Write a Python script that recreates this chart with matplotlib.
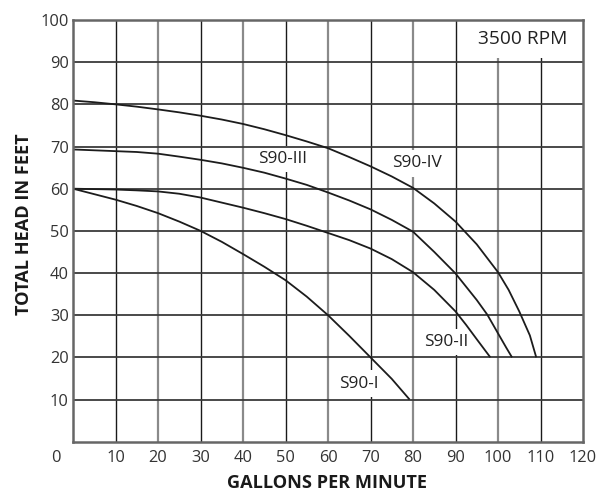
import matplotlib
matplotlib.use("Agg")
import matplotlib.pyplot as plt
import matplotlib.transforms as mtransforms

# ---------------- data ----------------
s90_iv_gpm = [0, 5, 10, 15, 20, 25, 30, 35, 40, 45, 50, 55, 60, 65, 70, 75, 80, 85, 90, 95, 100,
              102.5, 105, 107.5, 109]
s90_iv_head = [80.9, 80.5, 80.0, 79.45, 78.8, 78.1, 77.3, 76.4, 75.35, 74.1, 72.7, 71.2, 69.6, 67.5, 65.3, 62.9,
               60.2, 56.5, 52.2, 46.8, 40.2, 36.0, 30.9, 25.2, 20.0]

s90_iii_gpm = [0, 5, 10, 15, 20, 25, 30, 35, 40, 45, 50, 55, 60, 65, 70, 75, 80, 85, 90, 95, 97.5, 100,
               102, 103.3]
s90_iii_head = [69.3, 69.1, 68.9, 68.7, 68.3, 67.6, 66.85, 66.0, 64.96, 63.8, 62.4, 60.9, 59.1, 57.2, 55.1, 52.6,
                49.8, 45.0, 39.9, 33.6, 30.1, 25.7, 22.2, 20.0]

s90_ii_gpm = [0, 5, 10, 15, 20, 25, 30, 35, 40, 45, 50, 55, 60, 65, 70, 75, 80, 85, 90, 92.5, 95, 98.2]
s90_ii_head = [60.0, 59.9, 59.8, 59.6, 59.35, 58.8, 57.9, 56.7, 55.5, 54.2, 52.8, 51.2, 49.5, 47.8, 45.8, 43.3,
               40.2, 36.0, 30.9, 27.7, 24.3, 20.0]

s90_i_gpm = [0, 5, 10, 15, 20, 25, 30, 35, 40, 45, 50, 55, 60, 65, 70, 75, 79.2]
s90_i_head = [60.0, 58.7, 57.4, 55.9, 54.2, 52.2, 50.0, 47.4, 44.5, 41.5, 38.3, 34.4, 30.0, 25.1, 20.0, 14.9, 10.0]

curve_names = ["S90-IV", "S90-III", "S90-II", "S90-I"]
label_pos = [(81.0, 66.0), (49.4, 67.0), (87.8, 23.7), (67.2, 13.8)]

x_ticks = [0, 10, 20, 30, 40, 50, 60, 70, 80, 90, 100, 110, 120]
y_ticks = [10, 20, 30, 40, 50, 60, 70, 80, 90, 100]

rpm_text = "3500 RPM"
x_title = "GALLONS PER MINUTE"
y_title = "TOTAL HEAD IN FEET"

# ---------------- figure ----------------
plt.rcParams['font.family'] = ['Open Sans', 'DejaVu Sans']

fig = plt.figure(figsize=(6.11, 4.91), dpi=100)
ax = fig.add_axes([73 / 611, 1 - 441.7 / 491, 510 / 611, 421.7 / 491])
ax.set_xlim(0, 120)
ax.set_ylim(0, 100)

# vertical grid (under label boxes)
for xv in x_ticks[1:-1]:
    if (xv // 10) % 2 == 1:
        ax.axvline(xv, color="#1a1a1a", lw=1.0, zorder=1)
    else:
        ax.axvline(xv, color="#8a8a8a", lw=1.6, zorder=1)

# horizontal grid (over label boxes)
for yv in y_ticks[:-1]:
    ax.axhline(yv, color="#3a3a3a", lw=1.3, zorder=3)

# curves
series = [(s90_iv_gpm, s90_iv_head), (s90_iii_gpm, s90_iii_head),
          (s90_ii_gpm, s90_ii_head), (s90_i_gpm, s90_i_head)]
for gx, hy in series:
    ax.plot(gx, hy, color="#1c1c1c", lw=1.3, zorder=4, solid_capstyle="butt",
            solid_joinstyle="round")

# curve labels
for name, (lx, ly) in zip(curve_names, label_pos):
    ax.text(lx, ly, name, ha="center", va="center", fontsize=12.4, color="#222222",
            bbox=dict(boxstyle="square,pad=0.3", fc="white", ec="none"), zorder=2)

ax.text(105.9, 95.4, rpm_text, ha="center", va="center", fontsize=13.8, color="#222222",
        bbox=dict(boxstyle="square,pad=0.52", fc="white", ec="none"), zorder=2, clip_on=False)

# spines
for sp in ax.spines.values():
    sp.set_color("#666666")
    sp.set_linewidth(1.8)
    sp.set_zorder(5)

# ticks
ax.set_xticks(x_ticks)
ax.set_xticklabels([str(v) for v in x_ticks])
ax.set_yticks(y_ticks)
ax.set_yticklabels([str(v) for v in y_ticks])
ax.tick_params(axis="both", length=0, labelsize=11.8, labelcolor="#333333")
ax.tick_params(axis="x", pad=6)
ax.tick_params(axis="y", pad=3)

# shift the "0" label left
lbl0 = ax.get_xticklabels()[0]
lbl0.set_transform(lbl0.get_transform() + mtransforms.ScaledTranslation(-17.5 / 100, 0, fig.dpi_scale_trans))

fig.text(327 / 611, 1 - 483 / 491, x_title, ha="center", va="center", fontsize=13.1,
         fontweight="bold", color="#1a1a1a")
fig.text(24 / 611, 1 - 224 / 491, y_title, ha="center", va="center", fontsize=13.1,
         fontweight="bold", color="#1a1a1a", rotation=90)

fig.savefig("out.png", dpi=100, facecolor="white")
